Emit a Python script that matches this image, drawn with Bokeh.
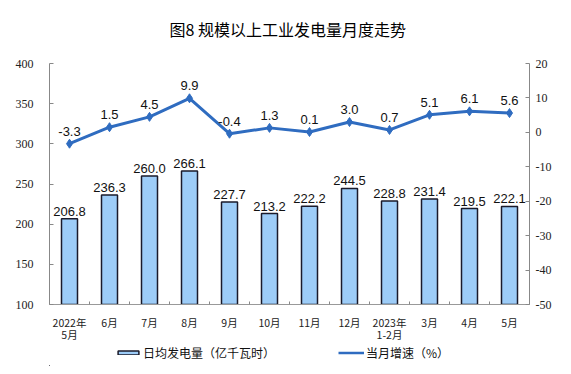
from bokeh.plotting import figure
from bokeh.layouts import column
from bokeh.models import (ColumnDataSource, Range1d, LinearAxis, FixedTicker, LabelSet,
                          Legend, LegendItem, Label)
from bokeh.core.properties import value
from bokeh.embed import file_html
from bokeh.resources import INLINE

title_text = "图8  规模以上工业发电量月度走势"
months = ["2022年\n5月", "6月", "7月", "8月", "9月", "10月", "11月", "12月",
          "2023年\n1-2月", "3月", "4月", "5月"]
daily_output = [206.8, 236.3, 260.0, 266.1, 227.7, 213.2, 222.2, 244.5, 228.8, 231.4, 219.5, 222.1]
growth = [-3.3, 1.5, 4.5, 9.9, -0.4, 1.3, 0.1, 3.0, 0.7, 5.1, 6.1, 5.6]
left_ticks = [100, 150, 200, 250, 300, 350, 400]
right_ticks = [-50, -40, -30, -20, -10, 0, 10, 20]
bar_name = "日均发电量（亿千瓦时）"
line_name = "当月增速（%）"

BAR_FILL, BAR_LINE = "#9DCCF7", "#1a1a2a"
LINE_COLOR = "#2F6CC0"

idx = list(range(len(months)))
src = ColumnDataSource(dict(
    x=idx, bar=daily_output, g=growth,
    bar_lbl=[f"{v:.1f}" for v in daily_output],
    g_lbl=[f"{v:.1f}" for v in growth],
))

W = 563
TH = 46           # title strip height
H = 345 - TH      # main chart height

# ---- title strip
tf = figure(width=W, height=TH, output_backend="svg", toolbar_location=None,
            x_range=Range1d(0, 1), y_range=Range1d(0, 1), min_border=0,
            outline_line_color=None)
tf.axis.visible = False
tf.grid.grid_line_color = None
tf.add_layout(Label(x=0.5, y=(TH - 28) / TH, text=title_text, text_align="center",
                    text_baseline="middle", text_font="Noto Sans CJK SC",
                    text_font_size="16px", text_color="#000000"))

# ---- main chart
p = figure(width=W, height=H, output_backend="svg", toolbar_location=None,
           x_range=Range1d(-0.5, len(months) - 0.5), y_range=Range1d(100, 400),
           min_border_left=49, min_border_right=W - 529, min_border_top=63 - TH,
           min_border_bottom=345 - 307)
p.outline_line_color = None
p.grid.grid_line_color = None
p.background_fill_color = "white"
p.border_fill_color = "white"

p.extra_y_ranges = {"g": Range1d(-50, 20)}

xa = p.xaxis[0]
xa.ticker = FixedTicker(ticks=idx, minor_ticks=[i - 0.5 for i in range(len(months) + 1)])
xa.major_label_overrides = {i: m for i, m in enumerate(months)}
xa.major_tick_line_color = None
xa.minor_tick_in = 3
xa.minor_tick_out = 0
xa.minor_tick_line_color = "#888888"
xa.axis_line_color = "#999999"
xa.major_label_text_font = "Noto Sans CJK SC"
xa.major_label_text_font_size = "10.5px"
xa.major_label_text_line_height = 0.85
xa.major_label_text_color = "#222222"
xa.major_label_standoff = 4

ya = p.yaxis[0]
ya.ticker = FixedTicker(ticks=left_ticks)
ya.minor_tick_line_color = None
ya.major_tick_in = 4
ya.major_tick_out = 0
ya.major_tick_line_color = "#888888"
ya.axis_line_color = "#888888"
ya.major_label_text_font = "Liberation Serif"
ya.major_label_text_font_size = "12px"
ya.major_label_text_color = "#222222"
ya.major_label_standoff = 16

ra = LinearAxis(y_range_name="g", ticker=FixedTicker(ticks=right_ticks))
ra.major_label_overrides = {t: str(t) for t in right_ticks}
ra.minor_tick_line_color = None
ra.major_tick_in = 4
ra.major_tick_out = 0
ra.major_tick_line_color = "#888888"
ra.axis_line_color = "#888888"
ra.major_label_text_font = "Liberation Serif"
ra.major_label_text_font_size = "12px"
ra.major_label_text_color = "#222222"
ra.major_label_standoff = 6
p.add_layout(ra, "right")

p.vbar(x="x", top="bar", bottom=100, width=0.4, source=src,
       fill_color=BAR_FILL, line_color=BAR_LINE, line_width=1.5)

p.line(x="x", y="g", source=src, y_range_name="g", line_color=LINE_COLOR, line_width=3)
p.scatter(x="x", y="g", source=src, y_range_name="g", marker="diamond", size=9,
          fill_color=LINE_COLOR, line_color=LINE_COLOR)

p.add_layout(LabelSet(x="x", y="bar", text="bar_lbl", source=src, text_align="center",
                      text_baseline="bottom", y_offset=3, text_font=value("Liberation Sans"),
                      text_font_size=value("13px"), text_color="#111111"))
p.add_layout(LabelSet(x="x", y="g", text="g_lbl", source=src, y_range_name="g",
                      text_align="center", text_baseline="bottom", y_offset=8,
                      text_font=value("Liberation Sans"), text_font_size=value("13px"),
                      text_color="#111111"))

# ---- legend strip (same data, drawn outside this strip's visible range)
lg = figure(width=W, height=21, output_backend="svg", toolbar_location=None,
            x_range=Range1d(1000, 1001), y_range=Range1d(1000, 1001),
            min_border=0, outline_line_color=None)
lg.axis.visible = False
lg.grid.grid_line_color = None
lb = lg.vbar(x="x", top="bar", bottom=100, width=0.4, source=src,
             fill_color=BAR_FILL, line_color=BAR_LINE, line_width=1.5)
ll = lg.line(x="x", y="g", source=src, line_color=LINE_COLOR, line_width=2.5)
lm = lg.scatter(x="x", y="g", source=src, marker="diamond", size=6,
                fill_color=LINE_COLOR, line_color=LINE_COLOR)
legend = Legend(items=[LegendItem(label=bar_name, renderers=[lb]),
                       LegendItem(label=line_name, renderers=[ll, lm])],
                location=(66, 5), orientation="horizontal", spacing=63,
                glyph_width=26, glyph_height=5, label_standoff=2,
                label_text_font="Noto Sans CJK SC", label_text_font_size="12px",
                label_text_color="#111111", border_line_color=None,
                background_fill_alpha=0, padding=0, margin=0, label_height=14)
lg.add_layout(legend, "center")

open("out.html", "w").write(file_html(column(tf, p, lg, spacing=0), INLINE))
